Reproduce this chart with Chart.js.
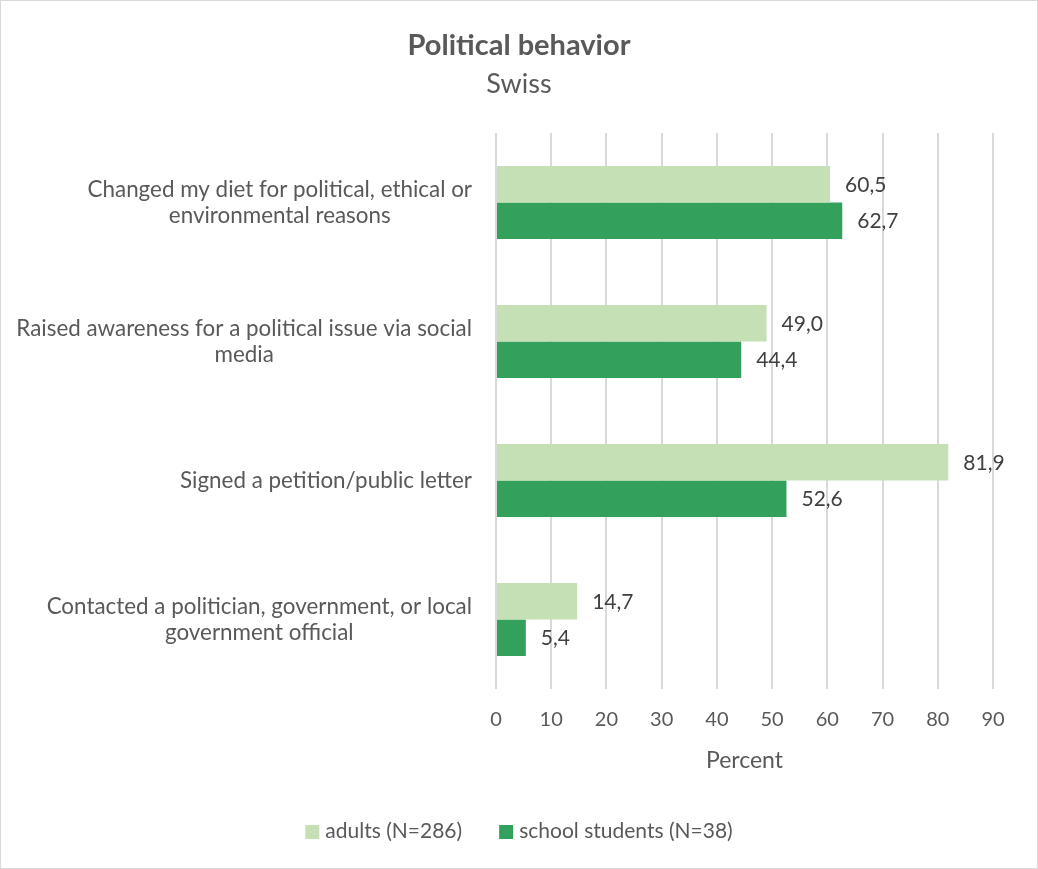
<!DOCTYPE html>
<html>
<head>
<meta charset="utf-8">
<script src="https://cdn.jsdelivr.net/npm/chart.js@4.4.1/dist/chart.umd.min.js"></script>
<style>
html,body{margin:0;padding:0;background:#fff;}
#wrap{width:1038px;height:869px;position:relative;}
</style>
</head>
<body>
<div id="wrap"><canvas id="c" width="1038" height="869"></canvas></div>
<script>
const chartTitle = 'Political behavior';
const chartSubtitle = 'Swiss';
const categories = [
  ['Changed my diet for political, ethical or', 'environmental reasons'],
  ['Raised awareness for a political issue via social', 'media'],
  ['Signed a petition/public letter'],
  ['Contacted a politician, government, or local', 'government official']
];
const seriesNames = ['adults (N=286)', 'school students (N=38)'];
const adults = [60.5, 49.0, 81.9, 14.7];
const students = [62.7, 44.4, 52.6, 5.4];
const xTicks = [0, 10, 20, 30, 40, 50, 60, 70, 80, 90];
const xTitle = 'Percent';
const colors = ['#c5e0b4', '#33a05b'];

const FONT = 'Lato, "Open Sans", sans-serif';
const TEXT = '#595959';

const customDraw = {
  id: 'customDraw',
  beforeDraw(chart) {
    const ctx = chart.ctx;
    ctx.save();
    ctx.fillStyle = '#fff';
    ctx.fillRect(0, 0, chart.width, chart.height);
    ctx.strokeStyle = '#d9d9d9';
    ctx.lineWidth = 1;
    ctx.strokeRect(0.5, 0.5, chart.width - 1, chart.height - 1);
    ctx.restore();
  },
  afterDraw(chart) {
    const ctx = chart.ctx;
    const area = chart.chartArea;
    const cx = chart.width / 2;
    ctx.save();
    ctx.fillStyle = TEXT;
    ctx.textBaseline = 'alphabetic';
    ctx.textAlign = 'center';
    ctx.font = 'bold 29px ' + FONT;
    ctx.fillText(chartTitle, cx, 55);
    ctx.font = '27px ' + FONT;
    ctx.fillText(chartSubtitle, cx, 93);

    // y category labels
    const y = chart.scales.y;
    ctx.font = '22.4px ' + FONT;
    ctx.textBaseline = 'middle';
    ctx.textAlign = 'center';
    const right = area.left - 24;
    const lh = 26;
    categories.forEach((lines, i) => {
      const yc = y.getPixelForTick(i);
      const w = Math.max(...lines.map(l => ctx.measureText(l).width));
      const xc = right - w / 2;
      const y0 = yc - (lines.length - 1) * lh / 2;
      lines.forEach((l, j) => ctx.fillText(l, xc, y0 + j * lh));
    });

    // x-axis title
    ctx.font = '23px ' + FONT;
    ctx.textBaseline = 'alphabetic';
    ctx.fillText(xTitle, (area.left + area.right) / 2, 768);

    // legend
    ctx.font = '21px ' + FONT;
    const box = 14, gapBox = 6, gapItem = 37;
    const widths = seriesNames.map(n => ctx.measureText(n).width);
    const total = widths.reduce((a, b) => a + b, 0) + seriesNames.length * (box + gapBox) + gapItem * (seriesNames.length - 1);
    let lx = cx - total / 2;
    const ly = 838;
    ctx.textAlign = 'left';
    seriesNames.forEach((n, i) => {
      ctx.fillStyle = colors[i];
      ctx.fillRect(lx, ly - 13, box, box);
      ctx.fillStyle = TEXT;
      ctx.fillText(n, lx + box + gapBox, ly);
      lx += box + gapBox + widths[i] + gapItem;
    });
    ctx.restore();
  },
  afterDatasetsDraw(chart) {
    const ctx = chart.ctx;
    ctx.save();
    ctx.font = '21px ' + FONT;
    ctx.fillStyle = '#404040';
    ctx.textAlign = 'left';
    ctx.textBaseline = 'middle';
    chart.data.datasets.forEach((ds, di) => {
      const meta = chart.getDatasetMeta(di);
      meta.data.forEach((el, i) => {
        const v = ds.data[i];
        ctx.fillText(v.toFixed(1).replace('.', ','), el.x + 15, el.y + 1);
      });
    });
    ctx.restore();
  }
};

new Chart(document.getElementById('c'), {
  type: 'bar',
  data: {
    labels: categories,
    datasets: [
      { label: seriesNames[0], data: adults, backgroundColor: colors[0], borderWidth: 0 },
      { label: seriesNames[1], data: students, backgroundColor: colors[1], borderWidth: 0 }
    ]
  },
  options: {
    indexAxis: 'y',
    responsive: false,
    animation: false,
    devicePixelRatio: 1,
    layout: { padding: { top: 133, right: 45, left: 0, bottom: 0 } },
    plugins: { legend: { display: false }, title: { display: false }, tooltip: { enabled: false } },
    datasets: { bar: { categoryPercentage: 0.524, barPercentage: 1.0 } },
    scales: {
      x: {
        min: xTicks[0], max: xTicks[xTicks.length - 1],
        afterBuildTicks(scale) { scale.ticks = xTicks.map(v => ({ value: v })); },
        afterFit(scale) { scale.height = 869 - 689; },
        border: { display: false },
        grid: { color: '#d9d9d9', lineWidth: 2, tickLength: 0, drawTicks: false },
        ticks: { color: TEXT, font: { family: FONT, size: 20 }, padding: 19, maxRotation: 0, autoSkip: false }
      },
      y: {
        afterFit(scale) { scale.width = 496; },
        border: { display: false },
        grid: { display: false },
        ticks: { display: false }
      }
    }
  },
  plugins: [customDraw]
});
</script>
</body>
</html>
